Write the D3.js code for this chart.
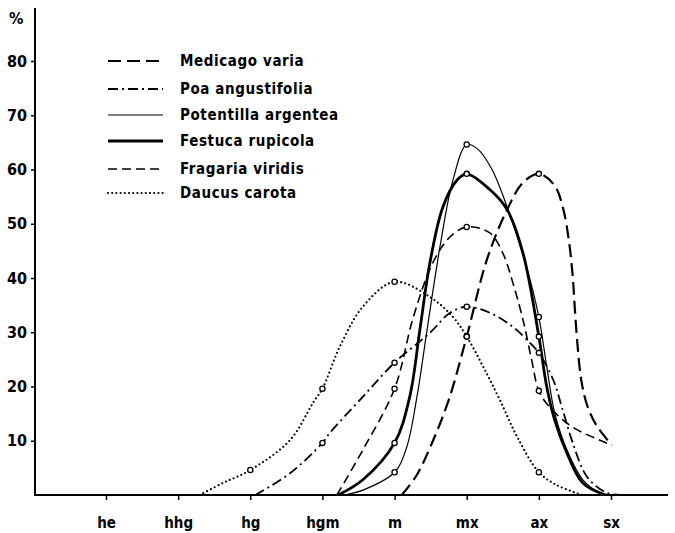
<!DOCTYPE html>
<html>
<head>
<meta charset="utf-8">
<script src="https://cdn.jsdelivr.net/npm/d3@7"></script>
<style>
  body { margin: 0; background: #fff; }
  svg { display: block; }
  text { font-family: "DejaVu Sans Condensed", "DejaVu Sans", sans-serif; font-weight: bold; fill: #000; }
</style>
</head>
<body>
<div id="viz"></div>
<script>
width = 675;
height = 533;

// categories along the moisture gradient
categories = ["he", "hhg", "hg", "hgm", "m", "mx", "ax", "sx"];
yTicks = [10, 20, 30, 40, 50, 60, 70, 80];

// [category position, percent, marked]
medicago = [[4.1,0],[4.3,3.5],[4.5,9],[4.75,17.5],[5,29.2,1],[5.28,43.4],[5.56,52.6],[5.78,57.6],[6,59.2,1],
  [6.22,57],[6.34,52.6],[6.42,46.5],[6.47,40.2],[6.5,34.1],[6.54,27],[6.59,21],[6.67,16.5],[6.8,12.8],[7.01,9.2]];
poa = [[2.07,0],[2.55,4],[3,9.6,1],[3.1,11.4],[3.56,18.1],[4,24.4,1],[4.49,29.9],[4.77,33.6],[5,34.7,1],[5.32,33.6],
  [5.64,31],[5.88,28],[6,26.2,1],[6.2,21.2],[6.33,15.7],[6.47,9.6],[6.67,3.3],[6.94,0.4],[7.12,0]];
potentilla = [[3.3,0],[3.56,0.9],[4,4.2,1],[4.17,8.9],[4.31,18.1],[4.45,30.4],[4.63,45.8],[4.81,58.1],
  [5,64.6,1],[5.15,63.8],[5.35,60],[5.56,53.1],[5.84,41.5],[6,32.8,1],[6.11,23.6],[6.22,15.1],[6.39,8.3],[6.61,2.8],[6.85,0.4],[7.0,0]];
festuca = [[3.22,0],[3.56,2.8],[4,9.6,1],[4.21,18.1],[4.35,30.4],[4.49,42.8],[4.67,53.1],[4.87,58.1],[5,59.2,1],
  [5.32,56.3],[5.56,52.6],[5.78,44.6],[6,29.2,1],[6.11,19.9],[6.22,13.8],[6.39,7.7],[6.61,2.2],[6.92,0]];
fragaria = [[3.2,0],[3.56,8.3],[4,19.6,1],[4.26,32.8],[4.53,42.8],[4.77,47.6],[5,49.4,1],[5.32,48.3],[5.5,44.6],
  [5.64,39.1],[5.78,32.3],[5.9,24.9],[6,19.2,1],[6.15,16.2],[6.47,12.5],[7.01,9.2]];
daucus = [[1.3,0],[1.62,2.2],[2,4.6,1],[2.55,10.1],[2.87,17],[3,19.6,1],[3.24,27.3],[3.56,34.7],[4,39.3,1],
  [4.49,36.5],[4.81,32.8],[5,29.2,1],[5.23,23.6],[5.46,17.5],[5.7,10.7],[6,4.2,1],[6.25,1.8],[6.6,0]];

names = ["Medicago varia", "Poa angustifolia", "Potentilla argentea", "Festuca rupicola", "Fragaria viridis", "Daucus carota"];
series = [medicago, poa, potentilla, festuca, fragaria, daucus];

styles = [
  {w: 2.2, dash: "13,6", cap: "butt"},
  {w: 1.8, dash: "10,4,2,4", cap: "butt"},
  {w: 1.2, dash: null, cap: "butt"},
  {w: 2.8, dash: null, cap: "butt"},
  {w: 1.6, dash: "9,5", cap: "butt"},
  {w: 2.2, dash: "0,4.2", cap: "round"}
];

var x = d3.scaleLinear().domain([0, 7]).range([106, 611]);
var y = d3.scaleLinear().domain([0, 80]).range([495, 61]);

svg = d3.select("#viz").append("svg")
  .attr("width", width)
  .attr("height", height);

svg.append("clipPath").attr("id", "plot")
  .append("rect").attr("x", 36).attr("y", 0).attr("width", 640).attr("height", y(0));

// axes
svg.append("line").attr("x1", 35).attr("x2", 35).attr("y1", 8).attr("y2", y(0) + 1)
  .attr("stroke", "black").attr("stroke-width", 2);
svg.append("line").attr("x1", 34).attr("x2", 668).attr("y1", y(0)).attr("y2", y(0))
  .attr("stroke", "black").attr("stroke-width", 2);

var yAxis = svg.append("g")
  .attr("transform", "translate(35,0)")
  .call(d3.axisLeft(y).tickValues(yTicks).tickSize(4).tickPadding(4));
yAxis.select(".domain").remove();
yAxis.selectAll("line").attr("stroke-width", 1.5);
yAxis.selectAll("text").style("font-size", "16px").style("font-family", "DejaVu Sans Condensed").attr("font-weight", "bold");

var xAxis = svg.append("g")
  .attr("transform", "translate(0," + y(0) + ")")
  .call(d3.axisBottom(x).tickValues(d3.range(categories.length)).tickFormat(function(d){ return categories[d]; })
    .tickSize(5).tickPadding(17));
xAxis.select(".domain").remove();
xAxis.selectAll("line").attr("stroke-width", 1.5);
xAxis.selectAll("text").style("font-size", "15px").style("font-family", "DejaVu Sans Condensed").attr("font-weight", "bold");

svg.append("text").attr("x", 9).attr("y", 24).style("font-size", "16px").text("%");

// curves
var line = d3.line()
  .x(function(d){ return x(d[0]); })
  .y(function(d){ return y(d[1]); })
  .curve(d3.curveCatmullRom.alpha(0.5));

curves = svg.append("g").attr("clip-path", "url(#plot)");
series.forEach(function(s, k) {
  curves.append("path").datum(s)
    .attr("d", line)
    .attr("fill", "none")
    .attr("stroke", "black")
    .attr("stroke-width", styles[k].w)
    .attr("stroke-linecap", styles[k].cap)
    .attr("stroke-dasharray", styles[k].dash);
});

series.forEach(function(s) {
  svg.selectAll(null).data(s.filter(function(d){ return d[2]; })).enter().append("circle")
    .attr("cx", function(d){ return x(d[0]); })
    .attr("cy", function(d){ return y(d[1]); })
    .attr("r", 2.6)
    .attr("fill", "white")
    .attr("stroke", "black")
    .attr("stroke-width", 1.3);
});

// legend
legendY = [61, 89, 115, 141, 169, 193];
legend = svg.append("g");
legend.selectAll("line").data(names).enter().append("line")
  .attr("x1", 108).attr("x2", 163)
  .attr("y1", function(d, i){ return legendY[i]; })
  .attr("y2", function(d, i){ return legendY[i]; })
  .attr("stroke", "black")
  .attr("stroke-width", function(d, i){ return styles[i].w; })
  .attr("stroke-linecap", function(d, i){ return styles[i].cap; })
  .attr("stroke-dasharray", function(d, i){ return styles[i].dash; });
legend.selectAll("text").data(names).enter().append("text")
  .attr("x", 180)
  .attr("y", function(d, i){ return legendY[i] + 5; })
  .style("font-size", "15px")
  .style("letter-spacing", "0.6px")
  .text(function(d){ return d; });
</script>
</body>
</html>
